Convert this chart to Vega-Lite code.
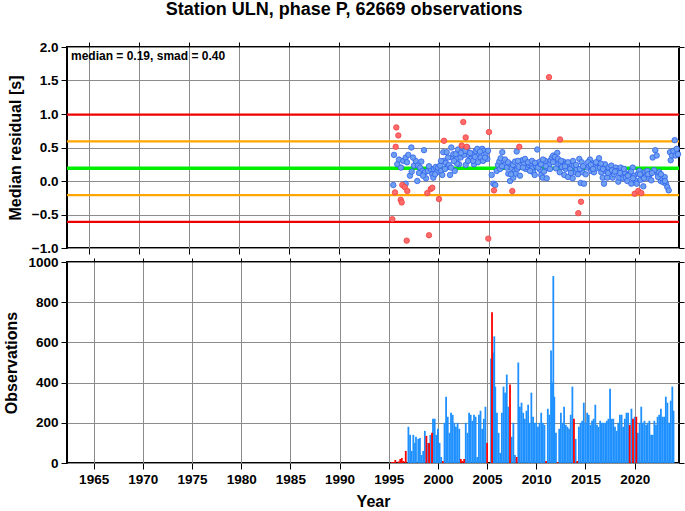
{
  "$schema": "https://vega.github.io/schema/vega-lite/v6.json",
  "padding": {"left": 2, "top": 1, "right": 0, "bottom": 0},
  "background": "white",
  "title": {"text": "Station ULN, phase P, 62669 observations", "fontSize": 18, "fontWeight": "bold", "font": "Liberation Sans", "color": "black", "anchor": "middle", "offset": 20},
  "config": {
    "font": "Liberation Sans",
    "view": {"stroke": "black", "strokeWidth": 2},
    "axis": {"labelFont": "Liberation Sans", "labelFontSize": 13.5, "labelFontWeight": "bold", "labelColor": "black", "titleFont": "Liberation Sans", "titleFontSize": 16, "titleFontWeight": "bold", "titleColor": "black", "gridColor": "#8c8c8c", "gridOpacity": 1, "gridWidth": 1, "domain": false, "tickColor": "black", "tickSize": 6, "labelPadding": 3, "titlePadding": 8}
  },
  "datasets": {
    "lines": [{"v": 0.99, "k": "red"}, {"v": 0.59, "k": "orange"}, {"v": 0.19, "k": "green"}, {"v": -0.21, "k": "orange"}, {"v": -0.61, "k": "red"}],
    "blue": [
      {"t":1995.43,"v":-0.06},{"t":1995.5,"v":0.39},{"t":1995.83,"v":0.25},{"t":1996.0,"v":0.32},{"t":1996.43,"v":0.30},{"t":1996.67,"v":0.35},{"t":1996.93,"v":0.39},{"t":1997.23,"v":0.50},{"t":1996.67,"v":-0.04},{"t":1997.1,"v":0.08},{"t":1997.27,"v":0.14},{"t":1997.5,"v":0.23},{"t":1997.67,"v":0.30},{"t":1997.9,"v":0.23},{"t":1998.1,"v":0.20},{"t":1998.23,"v":0.29},{"t":1998.33,"v":0.15},{"t":1997.83,"v":0.0},{"t":1998.5,"v":0.46},{"t":1998.6,"v":0.13},{"t":1998.7,"v":0.04},{"t":1998.9,"v":0.15},{"t":1999.17,"v":0.18},{"t":1999.33,"v":0.10},{"t":1999.43,"v":0.05},{"t":1999.5,"v":0.18},{"t":1999.67,"v":0.21},{"t":1999.77,"v":0.13},{"t":1999.9,"v":0.20},{"t":2000.1,"v":0.23},{"t":2000.23,"v":0.15},{"t":2000.33,"v":0.09},{"t":2000.43,"v":0.43},{"t":2000.5,"v":0.30},{"t":2000.67,"v":0.27},{"t":2000.77,"v":0.43},{"t":2000.83,"v":0.21},{"t":2001.0,"v":0.24},{"t":2001.1,"v":0.09},{"t":2001.23,"v":0.50},{"t":2001.33,"v":0.35},{"t":2001.43,"v":0.40},{"t":2001.57,"v":0.15},{"t":2001.67,"v":0.40},{"t":2001.77,"v":0.33},{"t":2001.9,"v":0.47},{"t":2002.0,"v":0.25},{"t":2002.17,"v":0.35},{"t":2002.33,"v":0.50},{"t":2002.5,"v":0.39},{"t":2002.67,"v":0.24},{"t":2002.83,"v":0.50},{"t":2003.0,"v":0.38},{"t":2003.17,"v":0.33},{"t":2003.33,"v":0.40},{"t":2003.5,"v":0.25},{"t":2003.67,"v":0.45},{"t":2003.83,"v":0.48},{"t":2004.0,"v":0.39},{"t":2004.17,"v":0.35},{"t":2004.33,"v":0.48},{"t":2004.5,"v":0.45},{"t":2004.67,"v":0.40},{"t":2004.83,"v":0.33},{"t":2005.27,"v":0.09},{"t":2005.43,"v":-0.04},{"t":2005.63,"v":-0.06},{"t":2005.77,"v":0.15},{"t":2005.9,"v":0.24},{"t":2006.03,"v":0.29},{"t":2006.17,"v":0.34},{"t":2006.33,"v":0.43},{"t":2006.43,"v":0.23},{"t":2006.57,"v":0.25},{"t":2006.77,"v":0.20},{"t":2006.93,"v":0.11},{"t":2007.1,"v":0.0},{"t":2007.17,"v":0.25},{"t":2007.27,"v":0.19},{"t":2007.43,"v":0.05},{"t":2007.57,"v":0.15},{"t":2007.67,"v":0.11},{"t":2007.77,"v":0.44},{"t":2007.83,"v":0.18},{"t":2007.97,"v":0.21},{"t":2008.1,"v":0.08},{"t":2008.23,"v":0.30},{"t":2008.33,"v":0.31},{"t":2008.5,"v":0.25},{"t":2008.67,"v":0.18},{"t":2008.83,"v":0.21},{"t":2009.0,"v":0.24},{"t":2009.17,"v":0.26},{"t":2009.33,"v":0.19},{"t":2009.43,"v":0.13},{"t":2009.57,"v":0.09},{"t":2009.7,"v":0.22},{"t":2009.83,"v":0.47},{"t":2010.0,"v":0.28},{"t":2010.1,"v":0.17},{"t":2010.23,"v":0.09},{"t":2010.37,"v":0.05},{"t":2010.5,"v":0.14},{"t":2010.63,"v":0.30},{"t":2010.77,"v":0.04},{"t":2010.9,"v":0.19},{"t":2011.03,"v":0.25},{"t":2011.17,"v":0.31},{"t":2011.3,"v":0.35},{"t":2011.43,"v":0.38},{"t":2011.57,"v":0.30},{"t":2011.7,"v":0.19},{"t":2011.83,"v":0.42},{"t":2011.93,"v":0.25},{"t":2012.07,"v":0.13},{"t":2012.17,"v":0.25},{"t":2012.3,"v":0.21},{"t":2012.43,"v":0.29},{"t":2012.53,"v":0.09},{"t":2012.67,"v":0.18},{"t":2012.77,"v":0.26},{"t":2012.9,"v":0.06},{"t":2013.0,"v":0.21},{"t":2013.13,"v":0.18},{"t":2013.23,"v":0.25},{"t":2013.37,"v":0.04},{"t":2013.5,"v":0.23},{"t":2013.63,"v":0.13},{"t":2013.77,"v":0.18},{"t":2013.9,"v":0.10},{"t":2014.03,"v":0.33},{"t":2014.17,"v":-0.03},{"t":2014.27,"v":0.28},{"t":2014.37,"v":0.13},{"t":2014.5,"v":-0.04},{"t":2014.67,"v":0.10},{"t":2014.83,"v":0.20},{"t":2015.0,"v":0.23},{"t":2015.1,"v":0.32},{"t":2015.23,"v":0.15},{"t":2015.37,"v":0.26},{"t":2015.5,"v":0.13},{"t":2015.63,"v":0.23},{"t":2015.77,"v":0.19},{"t":2015.9,"v":0.28},{"t":2016.0,"v":0.34},{"t":2016.1,"v":0.20},{"t":2016.23,"v":0.13},{"t":2016.37,"v":0.05},{"t":2016.5,"v":-0.04},{"t":2016.6,"v":0.25},{"t":2016.73,"v":0.14},{"t":2016.83,"v":0.05},{"t":2016.97,"v":0.20},{"t":2017.1,"v":0.13},{"t":2017.23,"v":0.23},{"t":2017.37,"v":0.05},{"t":2017.5,"v":0.10},{"t":2017.67,"v":0.20},{"t":2017.8,"v":0.15},{"t":2017.93,"v":-0.01},{"t":2018.03,"v":0.05},{"t":2018.17,"v":0.20},{"t":2018.3,"v":0.10},{"t":2018.43,"v":0.04},{"t":2018.57,"v":0.13},{"t":2018.7,"v":0.05},{"t":2018.83,"v":0.0},{"t":2018.97,"v":0.10},{"t":2019.1,"v":0.11},{"t":2019.23,"v":-0.04},{"t":2019.37,"v":0.20},{"t":2019.5,"v":0.08},{"t":2019.63,"v":0.01},{"t":2019.77,"v":-0.04},{"t":2019.9,"v":0.11},{"t":2020.03,"v":0.15},{"t":2020.17,"v":0.02},{"t":2020.3,"v":0.08},{"t":2020.43,"v":-0.08},{"t":2020.57,"v":0.13},{"t":2020.7,"v":0.08},{"t":2020.83,"v":0.15},{"t":2020.97,"v":0.04},{"t":2021.1,"v":0.10},{"t":2021.23,"v":0.01},{"t":2021.37,"v":0.35},{"t":2021.5,"v":0.16},{"t":2021.63,"v":0.46},{"t":2021.77,"v":0.38},{"t":2021.9,"v":0.10},{"t":2022.03,"v":0.13},{"t":2022.17,"v":0.0},{"t":2022.3,"v":0.04},{"t":2022.43,"v":-0.02},{"t":2022.57,"v":0.06},{"t":2022.7,"v":-0.04},{"t":2022.83,"v":-0.09},{"t":2022.97,"v":-0.14},{"t":2023.1,"v":0.43},{"t":2023.17,"v":0.31},{"t":2023.3,"v":0.38},{"t":2023.43,"v":0.45},{"t":2023.57,"v":0.61},{"t":2023.67,"v":0.38},{"t":2023.77,"v":0.48},{"t":2023.9,"v":0.40},
      {"t":2003.1,"v":0.42},{"t":2003.4,"v":0.30},{"t":2003.6,"v":0.36},{"t":2003.9,"v":0.28},{"t":2004.1,"v":0.44},{"t":2004.4,"v":0.30},{"t":2004.6,"v":0.35},{"t":2004.9,"v":0.45},{"t":2002.9,"v":0.30},{"t":2002.6,"v":0.45},{"t":2002.2,"v":0.42},{"t":2001.8,"v":0.26},{"t":2001.5,"v":0.30},{"t":2001.2,"v":0.20},{"t":2000.9,"v":0.35},{"t":2000.6,"v":0.18},{"t":2000.2,"v":0.30},
      {"t":2006.1,"v":0.18},{"t":2006.3,"v":0.22},{"t":2006.6,"v":0.32},{"t":2006.9,"v":0.28},{"t":2007.2,"v":0.10},{"t":2007.4,"v":0.24},{"t":2007.6,"v":0.29},{"t":2007.9,"v":0.30},{"t":2008.4,"v":0.20},{"t":2008.6,"v":0.33},{"t":2008.9,"v":0.28},{"t":2009.1,"v":0.15},{"t":2009.3,"v":0.30},{"t":2009.6,"v":0.27},{"t":2009.9,"v":0.20},{"t":2010.2,"v":0.25},{"t":2010.4,"v":0.32},{"t":2010.7,"v":0.22},{"t":2011.1,"v":0.18},{"t":2011.4,"v":0.28},{"t":2011.6,"v":0.36},{"t":2011.9,"v":0.33},{"t":2012.2,"v":0.30},{"t":2012.6,"v":0.22},{"t":2012.9,"v":0.28},{"t":2013.2,"v":0.12},{"t":2013.4,"v":0.30},{"t":2013.7,"v":0.24},{"t":2014.1,"v":0.18},{"t":2014.4,"v":0.22},{"t":2014.9,"v":0.28},{"t":2015.2,"v":0.24},{"t":2015.4,"v":0.18},{"t":2015.7,"v":0.28},{"t":2016.2,"v":0.26},{"t":2016.4,"v":0.18},{"t":2016.9,"v":0.12},{"t":2017.3,"v":0.16},{"t":2017.6,"v":0.14},{"t":2018.1,"v":0.12},{"t":2018.5,"v":0.18},{"t":2018.9,"v":0.08},{"t":2019.2,"v":0.14},{"t":2019.4,"v":0.04},{"t":2020.1,"v":0.10},{"t":2020.5,"v":0.04},{"t":2020.9,"v":0.10},{"t":2021.3,"v":0.12},{"t":2021.9,"v":0.06},{"t":2022.2,"v":0.10},{"t":2022.6,"v":0.00},{"t":1996.2,"v":0.20},{"t":1996.8,"v":0.28},{"t":1997.4,"v":0.35},{"t":1998.0,"v":0.12},{"t":1998.4,"v":0.08},{"t":1999.0,"v":0.22},{"t":1999.6,"v":0.10}
    ],
    "red": [
      {"t":1995.33,"v":-0.57},{"t":1995.73,"v":0.80},{"t":1995.93,"v":0.68},{"t":1995.67,"v":0.51},{"t":1996.33,"v":-0.06},{"t":1996.57,"v":-0.09},{"t":1995.6,"v":-0.17},{"t":1996.17,"v":-0.28},{"t":1996.27,"v":-0.32},{"t":1996.77,"v":-0.89},{"t":1996.83,"v":-0.15},{"t":1999.0,"v":-0.81},{"t":1998.83,"v":-0.18},{"t":1999.17,"v":-0.12},{"t":1999.33,"v":-0.10},{"t":2000.0,"v":-0.27},{"t":2000.5,"v":0.60},{"t":2002.43,"v":0.88},{"t":2002.67,"v":0.65},{"t":2002.27,"v":0.53},{"t":2002.77,"v":0.51},{"t":2005.0,"v":0.73},{"t":2004.93,"v":-0.86},{"t":2005.5,"v":-0.14},{"t":2007.33,"v":-0.15},{"t":2008.03,"v":0.51},{"t":2011.0,"v":1.55},{"t":2012.1,"v":0.62},{"t":2013.93,"v":-0.48},{"t":2014.2,"v":-0.31},{"t":2019.57,"v":-0.19},{"t":2019.93,"v":-0.15},{"t":2020.23,"v":-0.18}
    ],
    "bars": [
      {"t":1995.33,"n":5,"c":"r"},{"t":1995.5,"n":5,"c":"r"},{"t":1995.67,"n":15,"c":"r"},{"t":1996.0,"n":8,"c":"r"},{"t":1996.17,"n":20,"c":"r"},{"t":1996.33,"n":25,"c":"r"},{"t":1996.5,"n":10,"c":"r"},{"t":1996.73,"n":60,"c":"r"},
      {"t":1997.0,"n":180,"c":"b"},{"t":1997.17,"n":140,"c":"b"},{"t":1997.33,"n":60,"c":"b"},{"t":1997.5,"n":140,"c":"b"},{"t":1997.67,"n":100,"c":"b"},{"t":1997.77,"n":130,"c":"b"},{"t":1998.0,"n":120,"c":"b"},{"t":1998.17,"n":125,"c":"b"},{"t":1998.33,"n":40,"c":"b"},{"t":1998.5,"n":60,"c":"b"},{"t":1998.67,"n":160,"c":"b"},{"t":1998.83,"n":135,"c":"r"},{"t":1999.0,"n":100,"c":"b"},{"t":1999.1,"n":100,"c":"r"},{"t":1999.23,"n":140,"c":"b"},{"t":1999.4,"n":150,"c":"r"},{"t":1999.5,"n":220,"c":"b"},{"t":1999.67,"n":220,"c":"b"},{"t":1999.83,"n":140,"c":"b"},{"t":2000.0,"n":170,"c":"b"},{"t":2000.17,"n":100,"c":"b"},{"t":2000.33,"n":30,"c":"b"},{"t":2000.5,"n":10,"c":"r"},
      {"t":2000.67,"n":200,"c":"b"},{"t":2000.83,"n":330,"c":"b"},{"t":2001.0,"n":230,"c":"b"},{"t":2001.17,"n":150,"c":"b"},{"t":2001.33,"n":250,"c":"b"},{"t":2001.5,"n":240,"c":"b"},{"t":2001.67,"n":200,"c":"b"},{"t":2001.83,"n":180,"c":"b"},{"t":2002.0,"n":200,"c":"b"},{"t":2002.17,"n":170,"c":"b"},{"t":2002.33,"n":20,"c":"r"},{"t":2002.5,"n":10,"c":"r"},{"t":2002.67,"n":20,"c":"r"},{"t":2002.83,"n":200,"c":"b"},{"t":2003.0,"n":150,"c":"b"},{"t":2003.17,"n":250,"c":"b"},{"t":2003.33,"n":240,"c":"b"},{"t":2003.5,"n":210,"c":"b"},{"t":2003.67,"n":240,"c":"b"},{"t":2003.83,"n":230,"c":"b"},{"t":2004.0,"n":30,"c":"b"},{"t":2004.17,"n":240,"c":"b"},{"t":2004.33,"n":260,"c":"b"},{"t":2004.5,"n":170,"c":"b"},{"t":2004.67,"n":220,"c":"b"},{"t":2004.83,"n":280,"c":"b"},{"t":2005.0,"n":100,"c":"r"},
      {"t":2005.4,"n":520,"c":"b"},{"t":2005.5,"n":750,"c":"r"},{"t":2005.6,"n":550,"c":"b"},{"t":2005.73,"n":630,"c":"b"},{"t":2005.83,"n":380,"c":"b"},{"t":2006.0,"n":250,"c":"b"},{"t":2006.17,"n":150,"c":"b"},{"t":2006.33,"n":50,"c":"b"},{"t":2006.5,"n":250,"c":"b"},{"t":2006.67,"n":380,"c":"b"},{"t":2006.83,"n":350,"c":"b"},{"t":2007.0,"n":440,"c":"b"},{"t":2007.17,"n":280,"c":"b"},{"t":2007.33,"n":390,"c":"r"},{"t":2007.5,"n":130,"c":"b"},{"t":2007.67,"n":200,"c":"b"},{"t":2007.83,"n":40,"c":"b"},{"t":2008.0,"n":30,"c":"r"},{"t":2008.17,"n":500,"c":"b"},{"t":2008.33,"n":280,"c":"b"},{"t":2008.5,"n":300,"c":"b"},{"t":2008.67,"n":250,"c":"b"},{"t":2008.83,"n":220,"c":"b"},{"t":2009.0,"n":260,"c":"b"},{"t":2009.17,"n":290,"c":"b"},{"t":2009.33,"n":200,"c":"b"},{"t":2009.5,"n":350,"c":"b"},{"t":2009.67,"n":230,"c":"b"},{"t":2009.83,"n":200,"c":"b"},
      {"t":2010.0,"n":200,"c":"b"},{"t":2010.17,"n":180,"c":"b"},{"t":2010.33,"n":200,"c":"b"},{"t":2010.5,"n":250,"c":"b"},{"t":2010.67,"n":200,"c":"b"},{"t":2010.83,"n":190,"c":"b"},{"t":2011.0,"n":10,"c":"r"},{"t":2011.17,"n":270,"c":"b"},{"t":2011.33,"n":240,"c":"b"},{"t":2011.5,"n":560,"c":"b"},{"t":2011.6,"n":400,"c":"b"},{"t":2011.73,"n":930,"c":"b"},{"t":2011.83,"n":330,"c":"b"},{"t":2012.0,"n":150,"c":"b"},{"t":2012.17,"n":5,"c":"r"},{"t":2012.33,"n":170,"c":"b"},{"t":2012.5,"n":250,"c":"b"},{"t":2012.67,"n":200,"c":"b"},{"t":2012.83,"n":280,"c":"b"},{"t":2013.0,"n":190,"c":"b"},{"t":2013.17,"n":180,"c":"b"},{"t":2013.33,"n":170,"c":"b"},{"t":2013.5,"n":240,"c":"b"},{"t":2013.67,"n":380,"c":"b"},{"t":2013.83,"n":220,"c":"r"},{"t":2014.0,"n":120,"c":"b"},{"t":2014.17,"n":10,"c":"r"},{"t":2014.33,"n":180,"c":"b"},{"t":2014.5,"n":200,"c":"b"},{"t":2014.67,"n":210,"c":"b"},{"t":2014.83,"n":300,"c":"b"},
      {"t":2015.0,"n":200,"c":"b"},{"t":2015.17,"n":250,"c":"b"},{"t":2015.33,"n":240,"c":"b"},{"t":2015.5,"n":190,"c":"b"},{"t":2015.67,"n":210,"c":"b"},{"t":2015.83,"n":220,"c":"b"},{"t":2016.0,"n":290,"c":"b"},{"t":2016.17,"n":190,"c":"b"},{"t":2016.33,"n":180,"c":"b"},{"t":2016.5,"n":210,"c":"b"},{"t":2016.67,"n":200,"c":"b"},{"t":2016.83,"n":200,"c":"b"},{"t":2017.0,"n":200,"c":"b"},{"t":2017.17,"n":210,"c":"b"},{"t":2017.33,"n":220,"c":"b"},{"t":2017.5,"n":370,"c":"b"},{"t":2017.67,"n":220,"c":"b"},{"t":2017.83,"n":220,"c":"b"},{"t":2018.0,"n":180,"c":"b"},{"t":2018.17,"n":160,"c":"b"},{"t":2018.33,"n":200,"c":"b"},{"t":2018.5,"n":240,"c":"b"},{"t":2018.67,"n":240,"c":"b"},{"t":2018.83,"n":180,"c":"b"},{"t":2019.0,"n":220,"c":"b"},{"t":2019.17,"n":250,"c":"b"},{"t":2019.33,"n":250,"c":"b"},{"t":2019.5,"n":190,"c":"r"},{"t":2019.67,"n":270,"c":"b"},{"t":2019.83,"n":220,"c":"r"},
      {"t":2020.0,"n":230,"c":"b"},{"t":2020.17,"n":230,"c":"r"},{"t":2020.33,"n":150,"c":"b"},{"t":2020.5,"n":200,"c":"b"},{"t":2020.67,"n":280,"c":"b"},{"t":2020.83,"n":200,"c":"b"},{"t":2021.0,"n":210,"c":"b"},{"t":2021.17,"n":190,"c":"b"},{"t":2021.33,"n":200,"c":"b"},{"t":2021.5,"n":210,"c":"b"},{"t":2021.67,"n":140,"c":"b"},{"t":2021.83,"n":140,"c":"b"},{"t":2022.0,"n":210,"c":"b"},{"t":2022.17,"n":190,"c":"b"},{"t":2022.33,"n":230,"c":"b"},{"t":2022.5,"n":240,"c":"b"},{"t":2022.67,"n":270,"c":"b"},{"t":2022.83,"n":230,"c":"b"},{"t":2023.0,"n":230,"c":"b"},{"t":2023.17,"n":330,"c":"b"},{"t":2023.33,"n":300,"c":"b"},{"t":2023.5,"n":200,"c":"b"},{"t":2023.67,"n":310,"c":"b"},{"t":2023.83,"n":380,"c":"b"},{"t":2023.95,"n":260,"c":"b"}
    ]
  },
  "spacing": -2,
  "vconcat": [
    {
      "width": 612,
      "height": 201,
      "resolve": {"axis": {"x": "independent", "y": "independent"}},
      "layer": [
        {
          "data": {"name": "lines"},
          "transform": [{"filter": "datum.k != 'green'"}],
          "mark": {"type": "rule", "strokeWidth": 2.2},
          "encoding": {
            "y": {"field": "v", "type": "quantitative", "scale": {"domain": [-1, 2], "nice": false, "zero": false}, "axis": {"values": [-1, -0.5, 0, 0.5, 1, 1.5, 2], "format": ".1f", "title": "Median residual [s]", "grid": true}},
            "color": {"field": "k", "type": "nominal", "scale": {"domain": ["red", "orange"], "range": ["#ee0000", "#ffa500"]}, "legend": null}
          }
        },
        {
          "data": {"name": "lines"},
          "transform": [{"filter": "datum.k == 'green'"}],
          "mark": {"type": "rule", "strokeWidth": 3.5, "color": "#00ee00"},
          "encoding": {
            "y": {"field": "v", "type": "quantitative", "axis": {"orient": "right", "values": [-1, -0.5, 0, 0.5, 1, 1.5, 2], "labels": false, "title": null, "grid": false, "tickSize": 5}}
          }
        },
        {
          "data": {"name": "blue"},
          "mark": {"type": "circle", "size": 30, "fill": "#6f9ff0", "stroke": "#2f62ee", "strokeWidth": 0.8, "opacity": 1},
          "encoding": {
            "x": {"field": "t", "type": "quantitative", "scale": {"domain": [1962.8, 2024.0], "nice": false, "zero": false}, "axis": {"values": [1965, 1970, 1975, 1980, 1985, 1990, 1995, 2000, 2005, 2010, 2015, 2020], "labels": false, "title": null, "grid": true}},
            "y": {"field": "v", "type": "quantitative", "axis": null}
          }
        },
        {
          "data": {"name": "red"},
          "mark": {"type": "circle", "size": 30, "fill": "#ff6b6b", "stroke": "#f04040", "strokeWidth": 0.8, "opacity": 1},
          "encoding": {
            "x": {"field": "t", "type": "quantitative", "axis": {"orient": "top", "values": [1965, 1970, 1975, 1980, 1985, 1990, 1995, 2000, 2005, 2010, 2015, 2020], "labels": false, "title": null, "grid": false, "tickSize": 5}},
            "y": {"field": "v", "type": "quantitative", "axis": null}
          }
        },
        {
          "data": {"values": [{}]},
          "mark": {"type": "text", "align": "left", "baseline": "middle", "fontSize": 12, "fontWeight": "bold", "font": "Liberation Sans", "color": "black"},
          "encoding": {
            "x": {"datum": 1963.2, "type": "quantitative", "axis": null},
            "y": {"datum": 1.87, "type": "quantitative", "axis": null},
            "text": {"value": "median = 0.19, smad = 0.40"}
          }
        }
      ]
    },
    {
      "width": 612,
      "height": 201,
      "resolve": {"axis": {"x": "independent", "y": "independent"}},
      "layer": [
        {
          "data": {"name": "bars"},
          "transform": [{"filter": "datum.c == 'b'"}],
          "mark": {"type": "bar", "width": 1.8, "color": "#1e90ff", "clip": true},
          "encoding": {
            "x": {"field": "t", "type": "quantitative", "scale": {"domain": [1962.8, 2024.0], "nice": false, "zero": false}, "axis": {"values": [1965, 1970, 1975, 1980, 1985, 1990, 1995, 2000, 2005, 2010, 2015, 2020], "format": "d", "title": "Year", "grid": true}},
            "y": {"field": "n", "type": "quantitative", "scale": {"domain": [0, 1000], "nice": false}, "axis": {"values": [0, 200, 400, 600, 800, 1000], "format": "d", "title": "Observations", "grid": true}}
          }
        },
        {
          "data": {"name": "bars"},
          "transform": [{"filter": "datum.c == 'r'"}],
          "mark": {"type": "bar", "width": 1.8, "color": "#ff0000", "clip": true},
          "encoding": {
            "x": {"field": "t", "type": "quantitative", "axis": {"orient": "top", "values": [1965, 1970, 1975, 1980, 1985, 1990, 1995, 2000, 2005, 2010, 2015, 2020], "labels": false, "title": null, "grid": false, "tickSize": 4}},
            "y": {"field": "n", "type": "quantitative", "axis": {"orient": "right", "values": [0, 200, 400, 600, 800, 1000], "labels": false, "title": null, "grid": false, "tickSize": 5}}
          }
        }
      ]
    }
  ]
}
